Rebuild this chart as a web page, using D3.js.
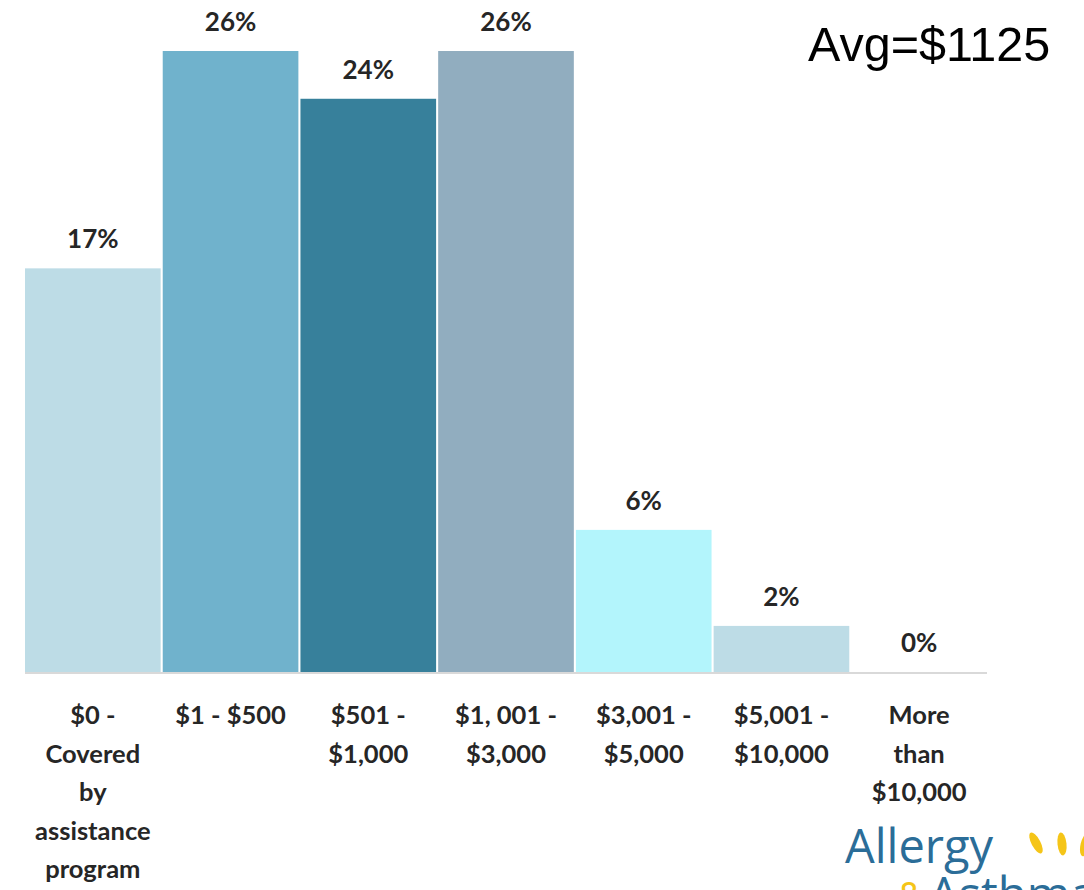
<!DOCTYPE html>
<meta charset="utf-8">
<style>
body { margin: 0; background: #fff; }
.val { font-family: Lato, "Open Sans", sans-serif; font-weight: 700; font-size: 26px; fill: #262626; }
.cat { font-family: Lato, "Open Sans", sans-serif; font-weight: 700; font-size: 25.5px; fill: #262626; }
.avg { font-family: "Liberation Sans", Arial, sans-serif; font-size: 48.5px; fill: #000; }
.logo { font-family: "Open Sans", Lato, sans-serif; font-size: 47px; fill: #2b6d98; }
</style>
<body>
<div id="chart"></div>
<script src="https://d3js.org/d3.v7.min.js"></script>
<script>

var categories = [
  ["$0 -", "Covered", "by", "assistance", "program"],
  ["$1 - $500"],
  ["$501 -", "$1,000"],
  ["$1, 001 -", "$3,000"],
  ["$3,001 -", "$5,000"],
  ["$5,001 -", "$10,000"],
  ["More", "than", "$10,000"]
];
var values = [16.9, 26, 24, 26, 5.95, 1.93, 0];
var colors = ["#bddce6", "#70b2cc", "#37809b", "#91adbf", "#b3f5fc", "#bddce6", "#bddce6"];

var width = 1084, height = 890;
var left = 25, right = 987, base = 672;

var svg = d3.select("#chart").append("svg")
    .attr("width", width).attr("height", height);

var x = d3.scaleBand()
    .domain(d3.range(values.length))
    .range([left, right])
    .paddingInner(0.015)
    .paddingOuter(0);

var y = d3.scaleLinear().domain([0, 26]).range([base, 51]);

svg.selectAll("rect.bar").data(values).enter().append("rect")
    .attr("class", "bar")
    .attr("x", (d, i) => x(i))
    .attr("width", x.bandwidth())
    .attr("y", d => y(d))
    .attr("height", d => base - y(d))
    .attr("fill", (d, i) => colors[i]);

// baseline
svg.append("line")
    .attr("x1", left).attr("x2", right)
    .attr("y1", base + 1).attr("y2", base + 1)
    .attr("stroke", "#d9d9d9").attr("stroke-width", 2);

// value labels
svg.selectAll("text.val").data(values).enter().append("text")
    .attr("class", "val")
    .attr("x", (d, i) => x(i) + x.bandwidth() / 2)
    .attr("y", d => y(d) - 20)
    .attr("text-anchor", "middle")
    .text(d => d3.format(".0f")(d) + "%");

// category labels
var cat = svg.selectAll("text.cat").data(categories).enter().append("text")
    .attr("class", "cat")
    .attr("text-anchor", "middle")
    .attr("y", 724);
cat.selectAll("tspan").data((d, i) => d.map(t => ({t: t, i: i}))).enter().append("tspan")
    .attr("x", d => x(d.i) + x.bandwidth() / 2)
    .attr("dy", (d, j) => j === 0 ? 0 : 38.5)
    .text(d => d.t);

svg.append("text").attr("class", "avg")
    .attr("x", 808).attr("y", 61)
    .text("Avg=$1125");

// logo (partly cut off at the page edge)
var logo = svg.append("g");
logo.append("text").attr("class", "logo")
    .attr("x", 845).attr("y", 863)
    .text("Allergy");
[[1036, 843, -28], [1062, 844, -6], [1085, 845, 12]].forEach(function (p) {
  logo.append("ellipse")
      .attr("cx", 0).attr("cy", 0).attr("rx", 4.5).attr("ry", 11.5)
      .attr("fill", "#f5c518")
      .attr("transform", "translate(" + p[0] + "," + p[1] + ") rotate(" + p[2] + ")");
});
logo.append("text").attr("class", "logo")
    .attr("x", 897).attr("y", 911).style("fill", "#f5c518").style("font-size", "40px")
    .text("&");
logo.append("text").attr("class", "logo")
    .attr("x", 929).attr("y", 911)
    .text("Asthma");

</script>
</body>
</html>
